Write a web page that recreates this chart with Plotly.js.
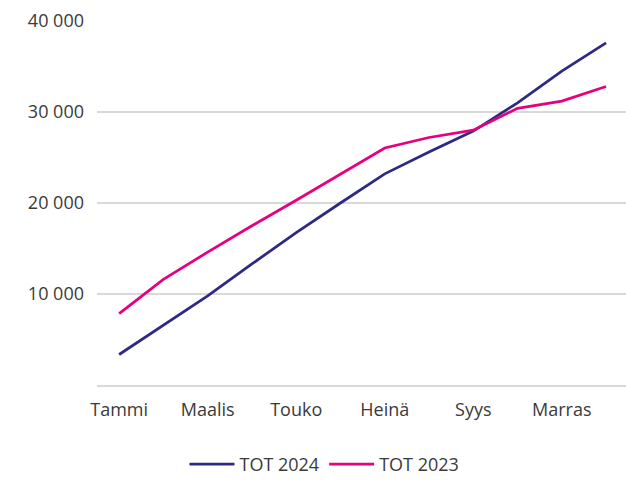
<!DOCTYPE html>
<html>
<head>
<meta charset="utf-8">
<script src="https://cdn.plot.ly/plotly-3.0.1.min.js"></script>
<style>
  html, body { margin: 0; padding: 0; background: #fff; }
  #chart { width: 626px; height: 483px; }
</style>
</head>
<body>
<div id="chart"></div>
<script>
var months = ['Tammi', 'Helmi', 'Maalis', 'Huhti', 'Touko', 'Kesä', 'Heinä', 'Elo', 'Syys', 'Loka', 'Marras', 'Joulu'];
var shownMonths = ['Tammi', 'Maalis', 'Touko', 'Heinä', 'Syys', 'Marras'];
var tot2024 = [3350, 6600, 9800, 13300, 16750, 20000, 23200, 25600, 27900, 31000, 34500, 37600];
var tot2023 = [7850, 11600, 14600, 17500, 20300, 23200, 26050, 27200, 28000, 30400, 31200, 32800];
var yTicks = [10000, 20000, 30000, 40000];

var textColor = '#3a3a3a';

var traces = [
    {
        x: months,
        y: tot2024,
        type: 'scatter',
        mode: 'lines',
        name: 'TOT 2024',
        line: { color: '#2e2a84', width: 2.75 }
    },
    {
        x: months,
        y: tot2023,
        type: 'scatter',
        mode: 'lines',
        name: 'TOT 2023',
        line: { color: '#e6007e', width: 2.75 }
    }
];

var layout = {
    width: 626,
    height: 483,
    margin: { l: 97, r: 0, t: 21, b: 95 },
    paper_bgcolor: '#fff',
    plot_bgcolor: '#fff',
    separators: ', ',
    font: { family: '"Open Sans", "DejaVu Sans", sans-serif', size: 18, color: textColor },
    showlegend: true,
    legend: {
        orientation: 'h',
        x: 0.43,
        xanchor: 'center',
        y: -0.218,
        yanchor: 'middle',
        itemwidth: 45,
        font: { size: 18, color: textColor },
        traceorder: 'normal'
    },
    xaxis: {
        type: 'category',
        tickvals: shownMonths,
        range: [-0.5, 11.45],
        showgrid: false,
        showline: true,
        linecolor: '#d9d9d9',
        linewidth: 1.5,
        ticks: '',
        ticklabelstandoff: 8,
        zeroline: false,
        fixedrange: true
    },
    yaxis: {
        range: [0, 40000],
        tickvals: yTicks,
        tickformat: ',d',
        showgrid: true,
        gridcolor: '#d9d9d9',
        gridwidth: 1.5,
        zeroline: false,
        showline: false,
        ticks: '',
        ticklabelstandoff: 12,
        fixedrange: true
    }
};

Plotly.newPlot('chart', traces, layout, { displayModeBar: false, staticPlot: true });
</script>
</body>
</html>
